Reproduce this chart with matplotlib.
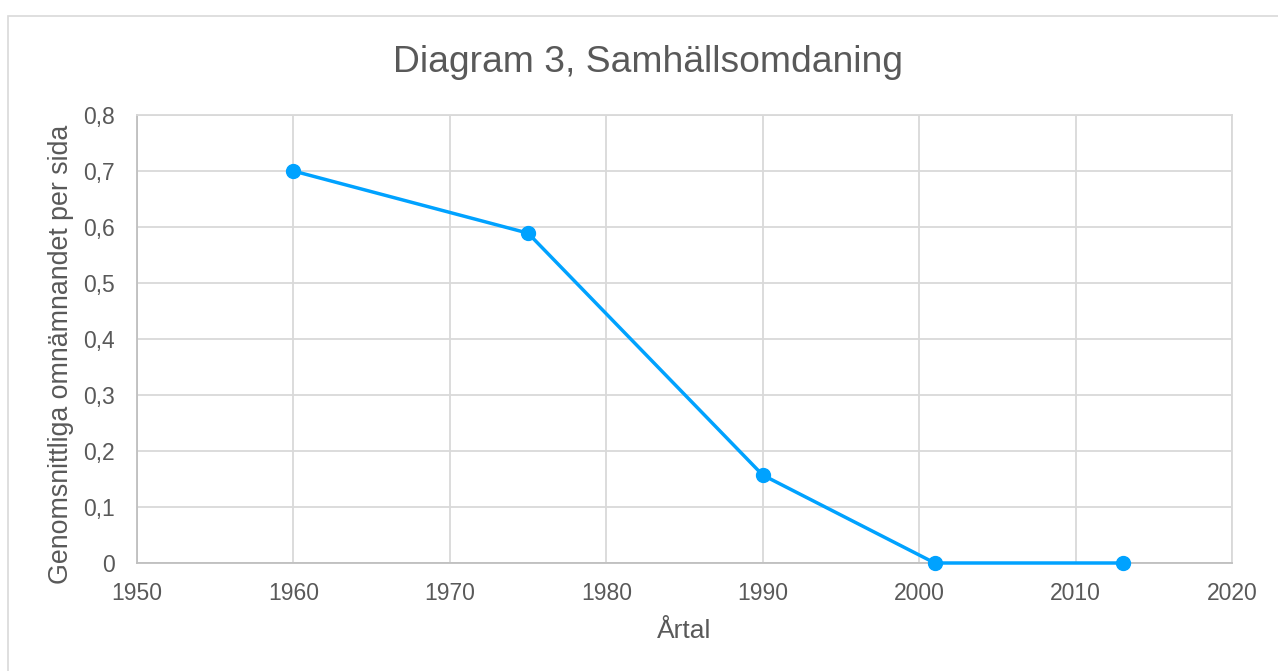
import matplotlib
matplotlib.use("Agg")
import matplotlib.pyplot as plt
from matplotlib.patches import Rectangle
from matplotlib.ticker import FuncFormatter

years = [1960, 1975, 1990, 2001, 2013]
mentions = [0.70, 0.589, 0.157, 0.0, 0.0]

title = "Diagram 3, Samhällsomdaning"
xlabel = "Årtal"
ylabel = "Genomsnittliga omnämnandet per sida"

TEXT = "#595959"
GRID = "#d9d9d9"
BLUE = "#00a2ff"

plt.rcParams["font.family"] = ["Liberation Sans", "DejaVu Sans"]

fig = plt.figure(figsize=(12.78, 6.71), dpi=100)
fig.patches.append(Rectangle((8 / 1278, -0.01), 1.02, 1 - 16 / 671 + 0.01,
                             transform=fig.transFigure, fill=False,
                             edgecolor="#d9d9d9", linewidth=1.2))
ax = fig.add_axes([137 / 1278, 1 - 563 / 671, (1232 - 137) / 1278, (563 - 115) / 671])

ax.plot(years, mentions, color=BLUE, linewidth=2.5, marker="o",
        markersize=10, zorder=3, clip_on=False)

ax.set_xlim(1950, 2020)
ax.set_ylim(0, 0.8)
ax.set_xticks(range(1950, 2021, 10))
ax.set_yticks([i / 10 for i in range(9)])
ax.yaxis.set_major_formatter(FuncFormatter(
    lambda v, _: "0" if abs(v) < 1e-9 else f"{v:.1f}".replace(".", ",")))

ax.grid(True, color=GRID, linewidth=1.3)
ax.set_axisbelow(True)
for side in ("top", "right"):
    ax.spines[side].set_color(GRID)
    ax.spines[side].set_linewidth(1.3)
for side in ("left", "bottom"):
    ax.spines[side].set_color("#bfbfbf")
    ax.spines[side].set_linewidth(1.3)
ax.tick_params(length=0, labelsize=16.5, labelcolor=TEXT)
ax.tick_params(axis="x", pad=14)
ax.tick_params(axis="y", pad=16)

ax.set_xlabel(xlabel, fontsize=19, color=TEXT)
ax.set_ylabel(ylabel, fontsize=19.3, color=TEXT, va="center")
ax.xaxis.set_label_coords(0.5, -0.124)
ax.yaxis.set_label_coords(-0.069, 0.466)
fig.text(648 / 1278, 1 - 63 / 671, title,
         ha="center", va="center", fontsize=26.8, color=TEXT)

fig.savefig("out.png", dpi=100)
